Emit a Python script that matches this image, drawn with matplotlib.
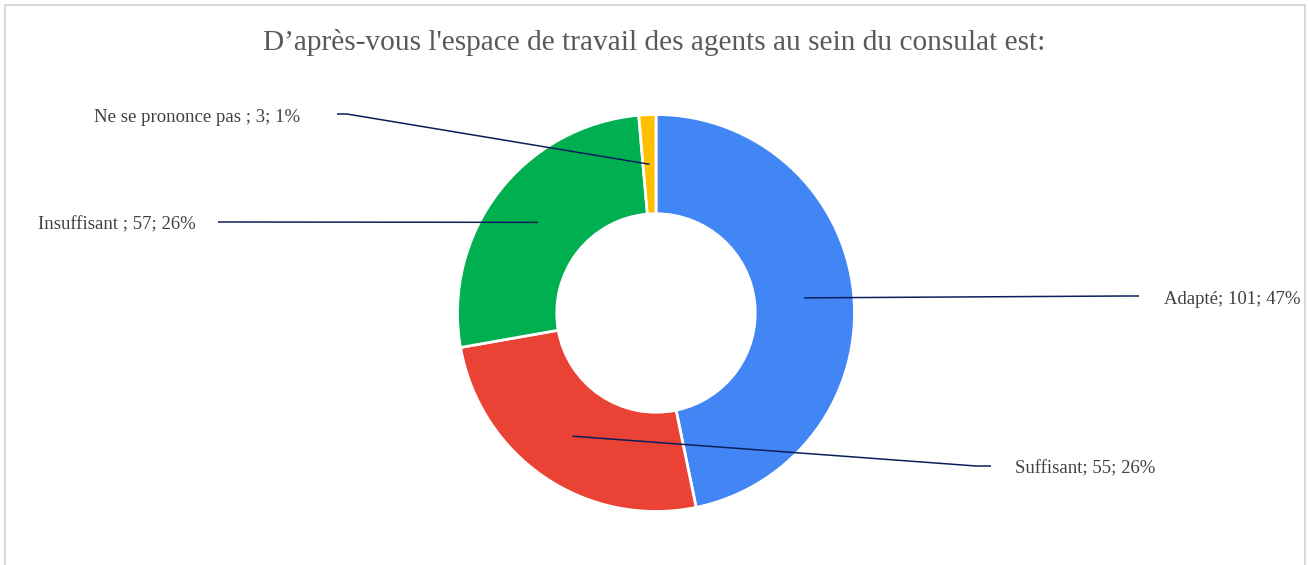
import numpy as np
import matplotlib
matplotlib.use("Agg")
import matplotlib.pyplot as plt
from matplotlib.patches import Rectangle

# data
categories = ["Adapté", "Suffisant", "Insuffisant ", "Ne se prononce pas "]
counts = [101, 55, 57, 3]
percents = [47, 26, 26, 1]
colors = ["#4285F4", "#EA4335", "#00B050", "#FFC000"]
title = "D’après-vous l'espace de travail des agents au sein du consulat est:"

W, H = 1309, 565
fig = plt.figure(figsize=(W / 100, H / 100), dpi=100)
ax = fig.add_axes([0, 0, 1, 1])

# work in pixel units (y up)
cx, cy, R = 656, H - 313, 198.5
ring = 0.5 * R
wedges, _ = ax.pie(counts, colors=colors, startangle=90, counterclock=False,
                   radius=R, center=(cx, cy), frame=True,
                   wedgeprops=dict(width=ring, edgecolor="white", linewidth=2))
ax.set_xlim(0, W); ax.set_ylim(0, H); ax.set_aspect("equal"); ax.axis("off")

# label placement (pixels from top-left): x, y, ha
label_pos = [(1164, 299, "left"), (1015, 469, "left"),
             (196, 225, "right"), (300, 117, "right")]
line_start = [(1139, 296), (991, 466), (218, 222), (337, 114)]

for w, cat, n, p, (tx, ty, ha), (lx, ly) in zip(wedges, categories, counts,
                                                  percents, label_pos, line_start):
    mid = np.deg2rad((w.theta1 + w.theta2) / 2)
    rr = R - ring / 2
    axx, ayy = cx + rr * np.cos(mid), cy + rr * np.sin(mid)
    elbow = lx - 15 if ha == "left" else lx + 10
    ax.plot([lx, elbow, axx], [H - ly, H - ly, ayy], color="#0B1F5C", lw=1.1,
            solid_capstyle="butt", zorder=5)
    ax.text(tx, H - ty, f"{cat}; {n}; {p}%", ha=ha, va="center",
            fontsize=13.5, family="Liberation Serif", color="#404040")

fig.text(654.5 / W, 1 - 43 / H, title, ha="center", va="center",
         fontsize=21.2, family="Liberation Serif", color="#595959")

fig.patches.append(Rectangle((5 / W, -0.05), 1300 / W, 1 - 5 / H + 0.05,
                             transform=fig.transFigure, fill=False,
                             edgecolor="#D9D9D9", lw=1.5))
fig.savefig("out.png", dpi=100)
